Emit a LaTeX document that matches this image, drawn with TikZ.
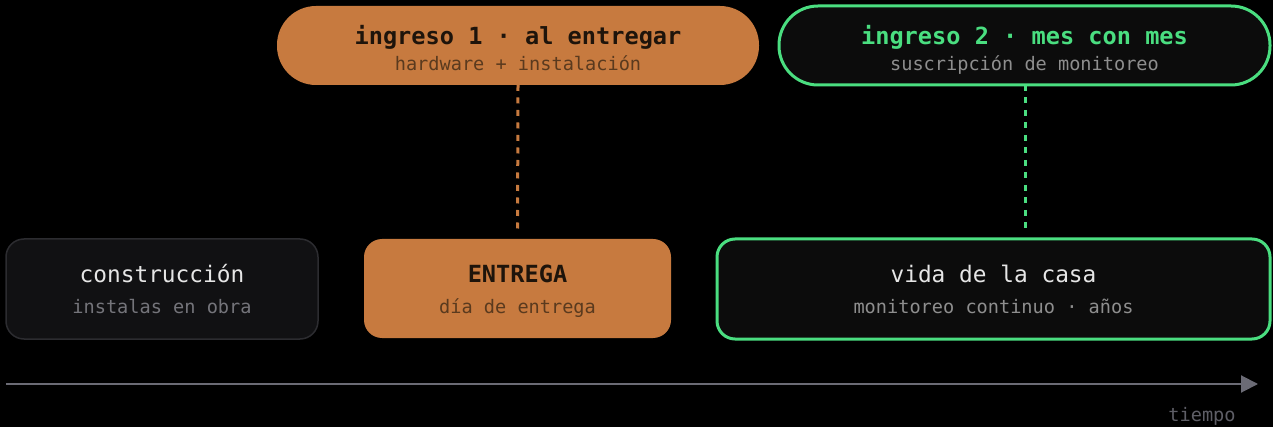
\documentclass[tikz,border=0pt]{standalone}
\usepackage{fontspec}
\setmainfont{DejaVu Sans Mono}
\usetikzlibrary{arrows.meta}
\definecolor{bg}{HTML}{000000}
\definecolor{orng}{HTML}{C77A3F}
\definecolor{grn}{HTML}{4ADE80}
\definecolor{darkfill}{HTML}{0C0C0C}
\definecolor{greyfill}{HTML}{111113}
\definecolor{greyline}{HTML}{2C2C30}
\definecolor{axis}{HTML}{6B6B75}
\definecolor{lighttext}{HTML}{E6E6E6}
\definecolor{dimtext}{HTML}{74747A}
\definecolor{subgrey}{HTML}{8E8E8E}
\definecolor{darkbrown}{HTML}{1E140B}
\definecolor{midbrown}{HTML}{5A3A1E}
\definecolor{tiempocol}{HTML}{5E5E66}
\tikzset{
  box/.style={rectangle, rounded corners=18pt, inner sep=0pt, outer sep=0pt},
  pill/.style={rectangle, rounded corners=39pt, inner sep=0pt, outer sep=0pt},
  ttl/.style={anchor=base, inner sep=0pt, font=\fontsize{22.8}{26}\selectfont},
  bttl/.style={anchor=base, inner sep=0pt, font=\fontsize{23.6}{27}\selectfont\bfseries},
  sub/.style={anchor=base, inner sep=0pt, font=\fontsize{18.6}{22}\selectfont},
  conn/.style={line width=3pt, dash pattern=on 6pt off 6.5pt},
}
\begin{document}
\begin{tikzpicture}[x=1pt,y=-1pt]
\fill[bg] (0,0) rectangle (1273,427);
\useasboundingbox (0,0) rectangle (1273,427);
% bottom boxes
\node[box, fill=greyfill, draw=greyline, line width=1.5pt, minimum width=312pt, minimum height=100pt] (constr) at (162,289) {};
\node[box, fill=orng, minimum width=307pt, minimum height=99pt] (entrega) at (517.5,288.5) {};
\node[box, fill=darkfill, draw=grn, line width=3pt, minimum width=553pt, minimum height=100pt] (vida) at (993.5,289) {};
% top pills
\node[pill, fill=orng, minimum width=482pt, minimum height=79pt] (ing1) at (518,45.5) {};
\node[pill, fill=darkfill, draw=grn, line width=3pt, minimum width=491pt, minimum height=79pt] (ing2) at (1024.5,45.5) {};
% texts
\node[ttl, text=lighttext] (t1) at (162,283) {construcción};
\node[sub, text=dimtext] (s1) at (162,313) {instalas en obra};
\node[bttl, text=darkbrown] (t2) at (517.5,283) {ENTREGA};
\node[sub, text=midbrown] (s2) at (517.5,313) {día de entrega};
\node[ttl, text=lighttext] (t3) at (993.5,283) {vida de la casa};
\node[sub, text=subgrey] (s3) at (993.5,313) {monitoreo continuo · años};
\node[bttl, text=darkbrown] (t4) at (518,45) {ingreso 1 · al entregar};
\node[sub, text=midbrown] (s4) at (518,71) {hardware + instalación};
\node[bttl, text=grn] (t5) at (1024.5,45) {ingreso 2 · mes con mes};
\node[sub, text=subgrey] (s5) at (1024.5,71) {suscripción de monitoreo};
% connectors
\coordinate (g1) at (1025,230);
\draw[conn, orng, shorten >=9pt] (ing1.south) -- (entrega.north);
\draw[conn, grn] (ing2.south -| g1) -- (g1);
% axis
\coordinate (a0) at (6,384);
\coordinate (a1) at (1258,384);
\draw[axis, line width=2pt, -{Triangle[length=17pt,width=17pt]}] (a0) -- (a1);
\node[sub, text=tiempocol] (tiempo) at (1202,421) {tiempo};
\end{tikzpicture}
\end{document}
